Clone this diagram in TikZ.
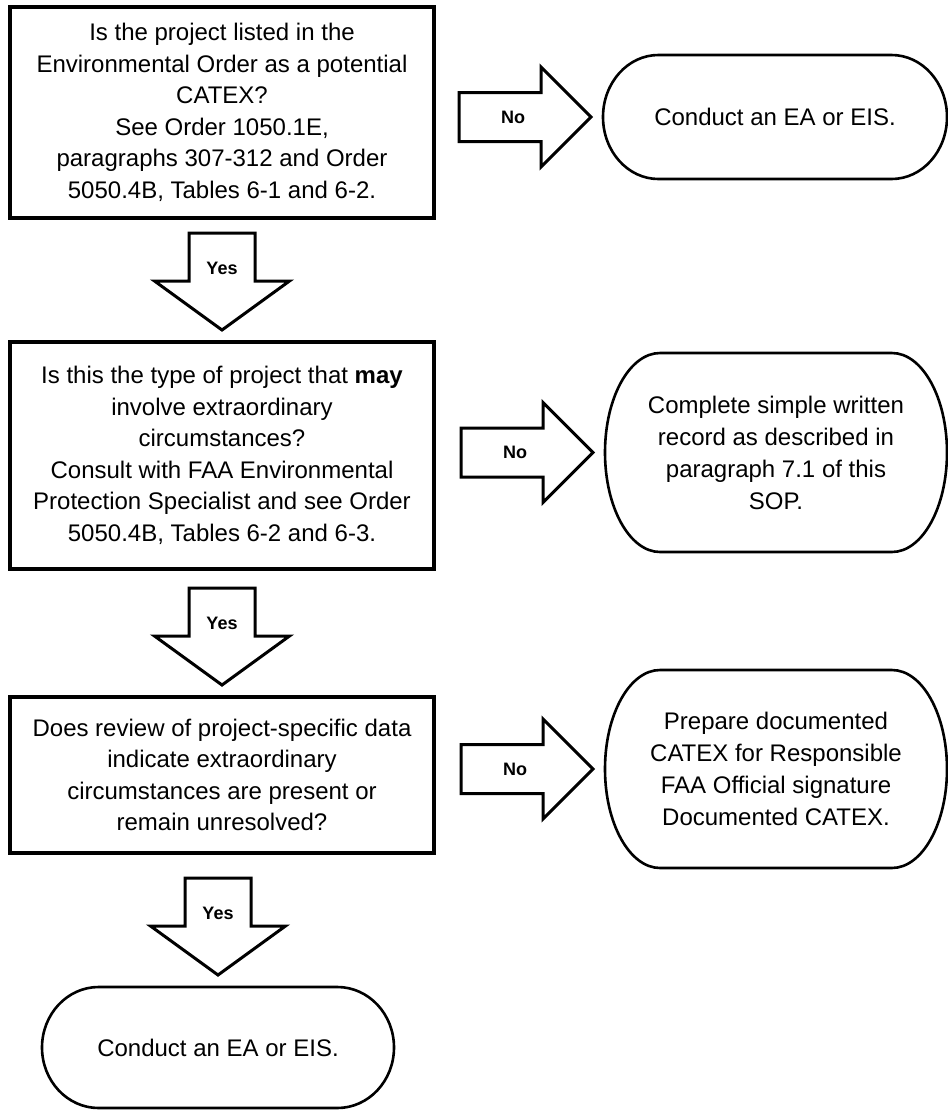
\documentclass[tikz,border=0pt]{standalone}
\usepackage{fontspec}
\setmainfont{Liberation Sans}
\usetikzlibrary{calc}

\begin{document}
\begin{tikzpicture}[x=0.5pt, y=0.5pt,
    question/.style={draw, line width=1.6pt, rectangle, minimum width=212pt, inner sep=0pt, outer sep=0pt, align=center, font=\fontsize{12}{15.75}\selectfont},
    terminal/.style={rectangle, inner sep=0pt, outer sep=0pt, align=center, font=\fontsize{12}{16}\selectfont},
    termline/.style={line width=1.3pt},
    blockarrow/.style={draw, line width=1.5pt, line join=miter, fill=white},
    lbl/.style={font=\fontsize{9}{10}\selectfont\bfseries, inner sep=0pt}]
    \useasboundingbox (0,0) rectangle (948,-1110);

    \node[question, minimum height=105.5pt] (q1) at (222,-112.5) {Is the project listed in the\\ Environmental Order as a potential\\ CATEX?\\ See Order 1050.1E,\\ paragraphs 307-312 and Order\\ 5050.4B, Tables 6-1 and 6-2.};
    \node[question, minimum height=113.5pt] (q2) at (222,-455.5) {Is this the type of project that \textbf{may}\\ involve extraordinary\\ circumstances?\\ Consult with FAA Environmental\\ Protection Specialist and see Order\\ 5050.4B, Tables 6-2 and 6-3.};
    \node[question, minimum height=78pt] (q3) at (222,-775) {Does review of project-specific data\\ indicate extraordinary\\ circumstances are present or\\ remain unresolved?};

    \node[terminal, minimum width=172pt, minimum height=62pt] (t1) at (775,-117) {Conduct an EA or EIS.};
    \node[terminal, minimum width=171pt, minimum height=99.5pt] (t2) at (776,-452.5) {Complete simple written\\ record as described in\\ paragraph 7.1 of this\\ SOP.};
    \node[terminal, minimum width=171pt, minimum height=99pt] (t3) at (776,-769) {Prepare documented\\ CATEX for Responsible\\ FAA Official signature\\ Documented CATEX.};
    \node[terminal, minimum width=176pt, minimum height=60.5pt] (t4) at (218,-1047.5) {Conduct an EA or EIS.};

    % terminator outlines
    \foreach \t in {t1,t2,t3,t4}
        \draw[termline] let \p1=(\t.north east), \p2=(\t.south west),
                \n1={0.161*(\x1-\x2)}, \n2={(\y1-\y2)/2} in
            (\x2+\n1,\y1) -- (\x1-\n1,\y1)
            arc[start angle=90, end angle=-90, x radius=\n1, y radius=\n2]
            -- (\x2+\n1,\y2)
            arc[start angle=270, end angle=90, x radius=\n1, y radius=\n2] -- cycle;

    % No arrows
    \foreach \t/\n in {t1/no1,t2/no2,t3/no3}
        \draw[blockarrow] ([xshift=-6pt]\t.west) -- ++(-50,50) -- ++(0,-25.5) -- ++(-82,0)
            -- ++(0,-49) -- ++(82,0) -- ++(0,-25.5) -- cycle
            ([xshift=-45pt]\t.west) node[lbl] (\n) {No};

    % Yes arrows
    \foreach \t/\n in {q2/yes1,q3/yes2,t4/yes3}
        \draw[blockarrow] ([yshift=6pt]\t.north) -- ++(67.5,49) -- ++(-34.5,0) -- ++(0,48)
            -- ++(-66,0) -- ++(0,-48) -- ++(-34.5,0) -- cycle
            ([yshift=37pt]\t.north) node[lbl] (\n) {Yes};
\end{tikzpicture}
\end{document}
